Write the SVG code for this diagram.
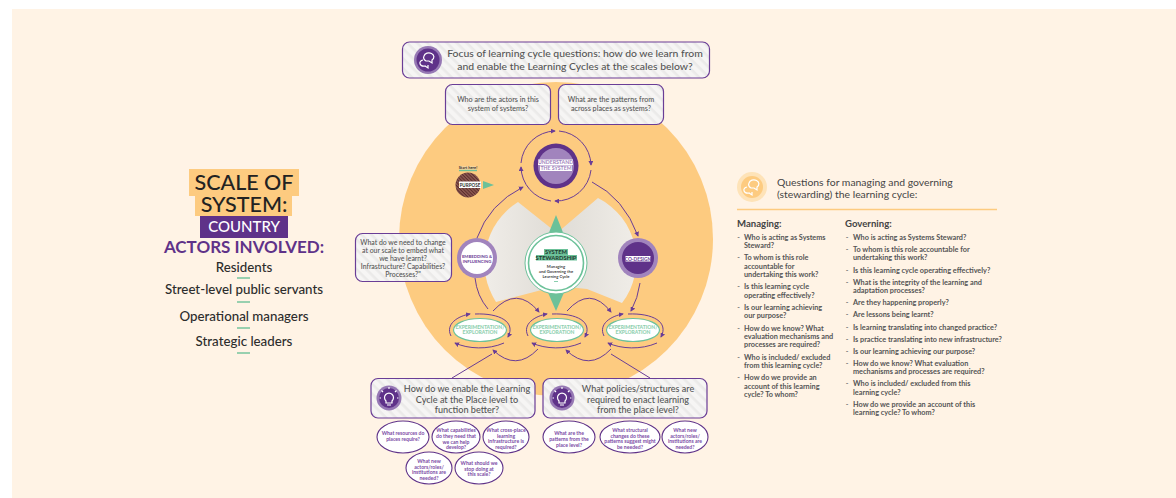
<svg xmlns="http://www.w3.org/2000/svg" width="1176" height="498" viewBox="0 0 1176 498">
<style>
text{font-family:"Lato","Open Sans","Liberation Sans",sans-serif;text-anchor:middle}
.box{fill:url(#hatch);stroke:#6a3d96;stroke-width:1.2}
.q{fill:#555;font-weight:500}
.oval{fill:#fff;stroke:#5f3289;stroke-width:1.1}
.ot{fill:#7b4aa5;font-size:5.1px;font-weight:700}
.c{fill:none;stroke:#6a3d96;stroke-width:1;marker-end:url(#arr)}
.p{fill:none;stroke:#6a3d96;stroke-width:1}
.dash{stroke:#6cc199;stroke-width:1.4}
.l{fill:#555;font-size:7.3px;font-weight:700;text-anchor:start}
.b{fill:#777;font-size:7px;font-weight:700}
.h{fill:#444;font-size:9.6px;font-weight:700;text-anchor:start}
.a{fill:#2c2c2c;font-size:13.3px;font-weight:500}
.e{fill:#8fd0b0;font-size:5px;font-weight:900}
.ic{fill:none;stroke:#fff;stroke-width:1.2}
</style>
<defs>
<pattern id="hatch" width="7" height="7" patternUnits="userSpaceOnUse" patternTransform="rotate(45)">
<rect width="7" height="7" fill="#f6f5f4"/><rect width="7" height="2.6" fill="#ebeae9"/>
</pattern>
<pattern id="brown" width="2.4" height="2.4" patternUnits="userSpaceOnUse" patternTransform="rotate(45)">
<rect width="2.4" height="2.4" fill="#8d5a52"/><rect width="2.4" height="1" fill="#5a2c2c"/>
</pattern>
<linearGradient id="fanL" x1="0" x2="1" y1="0" y2="0"><stop offset="0" stop-color="#f0ede8"/><stop offset="1" stop-color="#dfdcd6"/></linearGradient>
<linearGradient id="fanR" x1="0" x2="1" y1="0" y2="0"><stop offset="0" stop-color="#dfdcd6"/><stop offset="1" stop-color="#f0ede8"/></linearGradient>
<marker id="arr" viewBox="0 0 6 6" refX="5" refY="3" markerWidth="5" markerHeight="5" markerUnits="userSpaceOnUse" orient="auto"><path d="M0 0L6 3L0 6Z" fill="#6a3d96"/></marker>
</defs>
<rect width="1176" height="498" fill="#fff"/>
<rect x="12" y="9" width="1164" height="489" fill="#fff3e5"/>
<circle cx="556" cy="239" r="157" fill="#fdcb80"/>
<path d="M518 202L557 233V286L496 302A72 72 0 0 1 518 202Z" fill="url(#fanL)"/>
<path d="M598 198L557 233V286L587 289L622 303A70 70 0 0 0 598 198Z" fill="url(#fanR)"/>

<g id="connectors">
<path class="c" d="M521 163A35 35 0 0 1 555 131"/>
<path class="c" d="M559 131A35 35 0 0 1 591 165"/>
<path class="c" d="M591 170A35 35 0 0 1 555 201"/>
<path class="c" d="M551 201A35 35 0 0 1 521 167"/>
<path class="c" d="M477 238Q489 204 523 187"/>
<path class="c" d="M592 182Q624 198 638 236"/>
<path class="c" d="M640 283Q638 298 631 311"/>
<path class="p" d="M475 278Q477 296 488 309"/>
<path class="c" d="M493 311Q517 285 539 312"/>
<path class="c" d="M567 311Q590 285 611 312"/>
<path class="c" d="M538 349Q516 372 493 350"/>
<path class="c" d="M611 349Q589 372 566 350"/>
<path class="p" d="M492 354L452 378"/>
<path class="p" d="M611 354L650 378"/>
<g id="loop1" transform="translate(480 330)"><path class="c" d="M-29 6C-35 -6 -22 -14 -10 -16"/><path class="c" d="M-5 -16C20 -17 36 -8 28 7"/><path class="c" d="M24 13C8 20 -12 19 -25 13"/></g>
<g id="loop2" transform="translate(557 330)"><path class="c" d="M-29 6C-35 -6 -22 -14 -10 -16"/><path class="c" d="M-5 -16C20 -17 36 -8 28 7"/><path class="c" d="M24 13C8 20 -12 19 -25 13"/></g>
<g id="loop3" transform="translate(633 330)"><path class="c" d="M-29 6C-35 -6 -22 -14 -10 -16"/><path class="c" d="M-5 -16C20 -17 36 -8 28 7"/><path class="c" d="M24 13C8 20 -12 19 -25 13"/></g>
</g>

<g id="scale-title">
<rect x="189" y="169" width="110" height="27" fill="#fdcb80"/>
<rect x="195" y="196" width="97" height="20" fill="#fdcb80"/>
<rect x="200" y="216" width="88" height="22" fill="#5f3289"/>
<text x="244" y="190" font-size="21.5" font-weight="500" fill="#222">SCALE OF</text>
<text x="244" y="212" font-size="21.5" font-weight="500" fill="#222">SYSTEM:</text>
<text x="244" y="232" font-size="15" font-weight="500" fill="#fff">COUNTRY</text>
<text x="244" y="253" font-size="17" font-weight="700" fill="#5f3289">ACTORS INVOLVED:</text>
</g>
<g id="actors">
<text class="a" x="244" y="272">Residents</text><line class="dash" x1="237" x2="250" y1="278" y2="278"/>
<text class="a" x="244" y="294">Street-level public servants</text><line class="dash" x1="237" x2="250" y1="302" y2="302"/>
<text class="a" x="244" y="321">Operational managers</text><line class="dash" x1="237" x2="250" y1="328" y2="328"/>
<text class="a" x="244" y="346">Strategic leaders</text><line class="dash" x1="237" x2="250" y1="353" y2="353"/>
</g>

<g id="focus-box">
<rect class="box" x="402.5" y="42" width="307" height="36" rx="7"/>
<circle cx="428" cy="60" r="14" fill="#9678b4"/><circle cx="428" cy="60" r="11.5" fill="#5f3289"/>
<path class="ic" d="M424 56a5 4 0 1 1 8 4l0 3-3-2h-3a5 4 0 0 1-2-5zM423 60a4 3 0 1 0 2 6l3 2v-3"/>
<text class="q" x="575" y="57" font-size="10.4">Focus of learning cycle questions: how do we learn from</text>
<text class="q" x="575" y="70" font-size="10.4">and enable the Learning Cycles at the scales below?</text>
</g>
<g id="q-actors"><rect class="box" x="445.500" y="84.500" width="105" height="40" rx="7"/>
<text class="q" x="498" y="102" font-size="7.200">Who are the actors in this</text><text class="q" x="498" y="111" font-size="7.200">system of systems?</text></g>
<g id="q-patterns"><rect class="box" x="558.500" y="84.500" width="105" height="40" rx="7"/>
<text class="q" x="611" y="102" font-size="7.200">What are the patterns from</text><text class="q" x="611" y="111" font-size="7.200">across places as systems?</text></g>
<g id="q-change"><rect class="box" x="355.500" y="233.500" width="96" height="48" rx="7"/>
<text class="q" x="403" y="244.500" font-size="6.900">What do we need to change</text>
<text class="q" x="403" y="252.500" font-size="6.900">at our scale to embed what</text>
<text class="q" x="403" y="260.500" font-size="6.900">we have learnt?</text>
<text class="q" x="403" y="268.500" font-size="6.900">Infrastructure? Capabilities?</text>
<text class="q" x="403" y="276.500" font-size="6.900">Processes?"</text></g>

<g id="understand"><circle cx="556" cy="166" r="22.500" fill="#5f3289"/><circle cx="556" cy="166" r="18" fill="#a184bd"/>
<rect x="538" y="159.500" width="35" height="5.500" fill="#fff"/><rect x="540" y="165.500" width="32" height="5.500" fill="#fff"/>
<text x="555.500" y="164" font-size="5.200" font-weight="700" fill="#a184bd">UNDERSTAND</text>
<text x="556" y="170.200" font-size="5.200" font-weight="700" fill="#a184bd">THE SYSTEM</text></g>

<g id="purpose">
<rect x="459" y="166" width="17" height="4" fill="#f6d49b"/><line class="dash" x1="459" x2="477" y1="170.500" y2="170.500"/>
<text x="468" y="169.300" font-size="4" font-weight="700" fill="#333">Start here!</text>
<circle cx="468" cy="185" r="12.500" fill="url(#brown)"/>
<rect x="459" y="181.500" width="22" height="6.500" fill="#fff"/>
<text x="470" y="186.600" font-size="4.600" font-weight="700" fill="#333">PURPOSE</text>
<path d="M483 181L494 185L483 189Z" fill="#6cc199"/></g>

<g id="embedding"><circle cx="477" cy="258" r="20" fill="#a184bd"/><circle cx="477" cy="258" r="16" fill="#fff"/>
<text x="477" y="258" font-size="4.300" font-weight="700" fill="#6a3d96">EMBEDDING &amp;</text>
<text x="477" y="263.300" font-size="4.300" font-weight="700" fill="#6a3d96">INFLUENCING</text></g>
<g id="codesign"><circle cx="638" cy="258" r="20" fill="#a184bd"/><circle cx="638" cy="258" r="16" fill="#5f3289"/>
<rect x="625.500" y="256" width="25" height="5.500" fill="#fff"/>
<text x="638" y="260.600" font-size="4.800" font-weight="700" fill="#6a3d96">CO-DESIGN</text></g>

<g id="stewardship">
<path d="M556 215L566 240H546Z" fill="#6cc199"/><path d="M556 311L566 288H546Z" fill="#6cc199"/>
<circle cx="556" cy="263" r="31" fill="#fff" stroke="#6cc199" stroke-width="1"/><circle cx="556" cy="263" r="27.500" fill="#fff" stroke="#6cc199" stroke-width="1.600"/>
<rect x="544" y="249" width="24" height="6" fill="#6cc199"/><rect x="536" y="255" width="41" height="5.500" fill="#6cc199"/>
<text x="556" y="254.300" font-size="5.800" font-weight="700" fill="#1f3a2e">SYSTEM</text>
<text x="556" y="259.800" font-size="5.800" font-weight="700" fill="#1f3a2e">STEWARDSHIP</text>
<text x="556" y="267.500" font-size="4.200" font-weight="700" fill="#444">Managing</text>
<text x="556" y="272.500" font-size="4.200" font-weight="700" fill="#444">and Governing the</text>
<text x="556" y="277.500" font-size="4.200" font-weight="700" fill="#444">Learning Cycle</text>
<line x1="554" x2="558" y1="281.500" y2="281.500" stroke="#6cc199" stroke-width=".8"/></g>

<g id="exp1"><ellipse cx="480" cy="330" rx="26.500" ry="11.500" fill="#fff" stroke="#6cc199" stroke-width="1.200"/>
<text class="e" x="480" y="329">EXPERIMENTATION/</text><text class="e" x="480" y="334">EXPLORATION</text></g>
<g id="exp2"><ellipse cx="557" cy="330" rx="26.500" ry="11.500" fill="#fff" stroke="#6cc199" stroke-width="1.200"/>
<text class="e" x="557" y="329">EXPERIMENTATION/</text><text class="e" x="557" y="334">EXPLORATION</text></g>
<g id="exp3"><ellipse cx="633" cy="330" rx="26.500" ry="11.500" fill="#fff" stroke="#6cc199" stroke-width="1.200"/>
<text class="e" x="633" y="329">EXPERIMENTATION/</text><text class="e" x="633" y="334">EXPLORATION</text></g>

<g id="place-box"><rect class="box" x="371" y="378.500" width="164" height="39.500" rx="7"/>
<circle cx="389" cy="398" r="12.500" fill="#9678b4"/><circle cx="389" cy="398" r="10" fill="#5f3289"/>
<path class="ic" d="M386 401a4.500 4.500 0 1 1 6 0v2h-6zM387 405h4M389 389v-2M383 392l-1.500-1.500M395 392l1.500-1.500M381 398h-1.500M397 398h1.500"/>
<text class="q" x="467" y="391.500" font-size="9.100">How do we enable the Learning</text>
<text class="q" x="467" y="402.500" font-size="9.100">Cycle at the Place level to</text>
<text class="q" x="467" y="412.500" font-size="9.100">function better?</text></g>
<g id="policy-box"><rect class="box" x="543" y="378.500" width="164" height="39.500" rx="7"/>
<circle cx="562" cy="398" r="12.500" fill="#9678b4"/><circle cx="562" cy="398" r="10" fill="#5f3289"/>
<path class="ic" d="M559 401a4.500 4.500 0 1 1 6 0v2h-6zM560 405h4M562 389v-2M556 392l-1.500-1.500M568 392l1.500-1.500M554 398h-1.500M570 398h1.500"/>
<text class="q" x="638" y="391.500" font-size="9">What policies/structures are</text>
<text class="q" x="638" y="402.500" font-size="9">required to enact learning</text>
<text class="q" x="638" y="412.500" font-size="9">from the place level?</text></g>

<g id="o1"><ellipse class="oval" cx="403" cy="437" rx="26" ry="16"/><text class="ot" x="403" y="435">What resources do</text><text class="ot" x="403" y="441">places require?</text></g>
<g id="o2"><ellipse class="oval" cx="456" cy="437" rx="24" ry="16"/><text class="ot" x="456" y="432">What capabilities</text><text class="ot" x="456" y="438">do they need that</text><text class="ot" x="456" y="444">we can help</text><text class="ot" x="456" y="449">develop?</text></g>
<g id="o3"><ellipse class="oval" cx="506" cy="437" rx="23" ry="16"/><text class="ot" x="506" y="432">What cross-place</text><text class="ot" x="506" y="437.500">learning</text><text class="ot" x="506" y="443">infrastructure is</text><text class="ot" x="506" y="448.500">required?</text></g>
<g id="o4"><ellipse class="oval" cx="429" cy="468" rx="23" ry="16"/><text class="ot" x="429" y="463">What new</text><text class="ot" x="429" y="468.500">actors/roles/</text><text class="ot" x="429" y="474">institutions are</text><text class="ot" x="429" y="479.500">needed?</text></g>
<g id="o5"><ellipse class="oval" cx="479" cy="468" rx="24" ry="16"/><text class="ot" x="479" y="465">What should we</text><text class="ot" x="479" y="470.500">stop doing at</text><text class="ot" x="479" y="476">this scale?</text></g>
<g id="o6"><ellipse class="oval" cx="569" cy="437" rx="26" ry="16"/><text class="ot" x="569" y="435">What are the</text><text class="ot" x="569" y="441">patterns from the</text><text class="ot" x="569" y="446.500">place level?</text></g>
<g id="o7"><ellipse class="oval" cx="630" cy="437" rx="30" ry="16"/><text class="ot" x="630" y="432">What structural</text><text class="ot" x="630" y="437.500">changes do these</text><text class="ot" x="630" y="443">patterns suggest might</text><text class="ot" x="630" y="448.500">be needed?</text></g>
<g id="o8"><ellipse class="oval" cx="685" cy="437" rx="23" ry="16"/><text class="ot" x="685" y="432">What new</text><text class="ot" x="685" y="437.500">actors/roles/</text><text class="ot" x="685" y="443">institutions are</text><text class="ot" x="685" y="448.500">needed?</text></g>

<g id="stewarding-header">
<circle cx="752" cy="187" r="15" fill="#fee3b8"/><circle cx="752" cy="187" r="11" fill="#fdcb80"/>
<path class="ic" d="M749 183a5 4 0 1 1 8 4l0 3-3-2h-3a5 4 0 0 1-2-5zM747 187a4 3 0 1 0 2 6l3 2v-3"/>
<text x="777" y="185.500" font-size="10.400" fill="#444" style="text-anchor:start">Questions for managing and governing</text>
<text x="777" y="198" font-size="10.400" fill="#444" style="text-anchor:start">(stewarding) the learning cycle:</text>
<line x1="737" x2="997" y1="209.500" y2="209.500" stroke="#fdcb80" stroke-width="1.600"/>
</g>
<g id="managing">
<text class="h" x="737" y="226.500">Managing:</text>
<text class="l" x="744" y="240">Who is acting as Systems</text><text class="l" x="744" y="247.600">Steward?</text>
<text class="l" x="744" y="260">To whom is this role</text><text class="l" x="744" y="268.600">accountable for</text><text class="l" x="744" y="276.600">undertaking this work?</text>
<text class="l" x="744" y="289.300">Is this learning cycle</text><text class="l" x="744" y="298">operating effectively?</text>
<text class="l" x="744" y="310">Is our learning achieving</text><text class="l" x="744" y="318.300">our purpose?</text>
<text class="l" x="744" y="331">How do we know? What</text><text class="l" x="744" y="339">evaluation mechanisms and</text><text class="l" x="744" y="347">processes are required?</text>
<text class="l" x="744" y="360">Who is included/ excluded</text><text class="l" x="744" y="368">from this learning cycle?</text>
<text class="l" x="744" y="380.300">How do we provide an</text><text class="l" x="744" y="389">account of this learning</text><text class="l" x="744" y="397">cycle? To whom?</text>
<text class="b" x="738.500" y="240">-</text><text class="b" x="738.500" y="260">-</text><text class="b" x="738.500" y="289.300">-</text><text class="b" x="738.500" y="310">-</text><text class="b" x="738.500" y="331">-</text><text class="b" x="738.500" y="360">-</text><text class="b" x="738.500" y="380.300">-</text>
</g>
<g id="governing">
<text class="h" x="845" y="226.500">Governing:</text>
<text class="l" x="853" y="240">Who is acting as Systems Steward?</text>
<text class="l" x="853" y="252">To whom is this role accountable for</text><text class="l" x="853" y="260.300">undertaking this work?</text>
<text class="l" x="853" y="273.300">Is this learning cycle operating effectively?</text>
<text class="l" x="853" y="285">What is the integrity of the learning and</text><text class="l" x="853" y="293.300">adaptation processes?</text>
<text class="l" x="853" y="305">Are they happening properly?</text>
<text class="l" x="853" y="317">Are lessons being learnt?</text>
<text class="l" x="853" y="330">Is learning translating into changed practice?</text>
<text class="l" x="853" y="342">Is practice translating into new infrastructure?</text>
<text class="l" x="853" y="354">Is our learning achieving our purpose?</text>
<text class="l" x="853" y="366">How do we know? What evaluation</text><text class="l" x="853" y="374">mechanisms and processes are required?</text>
<text class="l" x="853" y="386">Who is included/ excluded from this</text><text class="l" x="853" y="395">learning cycle?</text>
<text class="l" x="853" y="407">How do we provide an account of this</text><text class="l" x="853" y="415">learning cycle? To whom?</text>
<text class="b" x="847" y="240">-</text><text class="b" x="847" y="252">-</text><text class="b" x="847" y="273.300">-</text><text class="b" x="847" y="285">-</text><text class="b" x="847" y="305">-</text><text class="b" x="847" y="317">-</text><text class="b" x="847" y="330">-</text><text class="b" x="847" y="342">-</text><text class="b" x="847" y="354">-</text><text class="b" x="847" y="366">-</text><text class="b" x="847" y="386">-</text><text class="b" x="847" y="407">-</text>
</g>
</svg>
